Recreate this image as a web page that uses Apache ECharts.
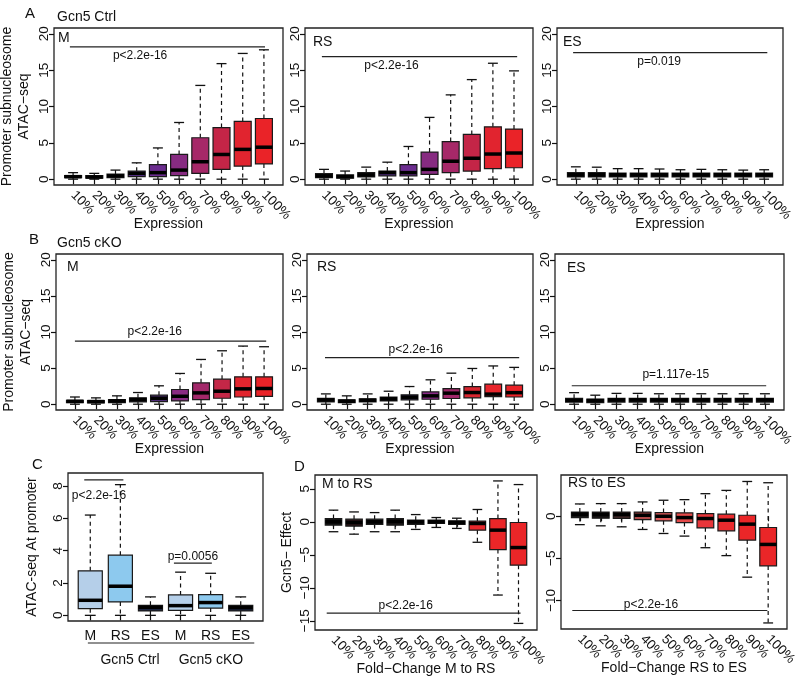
<!DOCTYPE html>
<html><head><meta charset="utf-8">
<script src="https://cdn.jsdelivr.net/npm/echarts@6/dist/echarts.min.js"></script>
<style>html,body{margin:0;padding:0;background:#fff}#c{width:800px;height:683px}</style>
</head><body><div id="c"></div>
<script>
// ---------- tick / category labels ----------
const pctLabels = ['10%','20%','30%','40%','50%','60%','70%','80%','90%','100%'];
const stageLabels = ['M','RS','ES','M','RS','ES'];
const yTicksAB = [0,5,10,15,20];
const yTicksC = [0,2,4,6,8];
const yTicksD1 = [-15,-10,-5,0,5];
const yTicksD2 = [-10,-5,0];

// ---------- box statistics: [min, Q1, median, Q3, max] ----------
const ctrlM = [[0,0.2,0.35,0.5,0.9],[0,0.15,0.3,0.5,0.8],[0,0.2,0.45,0.7,1.25],[0,0.35,0.8,1.1,2.25],[0,0.35,0.9,2.0,4.3],
  [0,0.5,1.25,3.4,7.8],[0,0.8,2.4,5.7,12.9],[0,1.35,3.4,7.1,15.9],[0,1.8,4.1,7.95,17.3],[0,2.1,4.4,8.35,17.8]];
const ctrlRS = [[0,0.22,0.45,0.76,1.35],[0,0.13,0.36,0.58,1.12],[0,0.31,0.58,0.9,1.66],[0,0.45,0.9,1.12,2.34],[0,0.45,0.9,2.0,4.5],
  [0,0.67,1.35,3.73,8.5],[0,0.9,2.47,5.17,11.6],[0,1.12,2.88,6.16,13.7],[0,1.44,3.46,7.2,15.95],[0,1.57,3.6,6.9,14.9]];
const ctrlES = [[0,0.3,0.6,0.9,1.7],[0,0.3,0.6,0.9,1.65],[0,0.3,0.6,0.85,1.45],[0,0.3,0.6,0.85,1.45],[0,0.3,0.6,0.85,1.4],
  [0,0.3,0.6,0.85,1.3],[0,0.3,0.6,0.85,1.35],[0,0.3,0.6,0.85,1.3],[0,0.3,0.6,0.85,1.25],[0,0.3,0.6,0.85,1.3]];
const koM = [[0,0.23,0.4,0.55,1.0],[0,0.2,0.37,0.5,0.88],[0,0.23,0.46,0.65,1.16],[0,0.32,0.65,0.88,1.62],[0,0.37,0.83,1.25,2.55],
  [0,0.46,1.1,2.04,4.26],[0,0.65,1.57,2.96,6.2],[0,0.83,1.8,3.47,7.4],[0,1.0,2.13,3.8,8.05],[0,1.1,2.18,3.8,7.96]];
const koRS = [[0,0.32,0.6,0.8,1.43],[0,0.23,0.42,0.6,1.16],[0,0.32,0.55,0.74,1.43],[0,0.46,0.74,1.0,1.8],[0,0.6,0.97,1.3,2.45],
  [0,0.69,1.16,1.7,3.38],[0,0.79,1.53,2.17,4.3],[0,0.88,1.62,2.45,4.95],[0,1.06,1.4,2.78,5.3],[0,1.0,1.6,2.64,5.1]];
const koES = [[0,0.28,0.56,0.83,1.6],[0,0.23,0.5,0.7,1.25],[0,0.3,0.6,0.8,1.5],[0,0.3,0.6,0.8,1.5],[0,0.3,0.6,0.8,1.45],
  [0,0.3,0.6,0.8,1.45],[0,0.3,0.6,0.8,1.45],[0,0.3,0.6,0.8,1.45],[0,0.3,0.6,0.8,1.45],[0,0.3,0.6,0.8,1.45]];
const promoterAll = [[0,0.41,0.93,2.75,6.2],[0,0.83,1.8,3.72,8.08],[0,0.27,0.5,0.62,1.14],
  [0,0.31,0.6,1.26,2.67],[0,0.45,0.79,1.28,2.6],[0,0.27,0.48,0.62,1.14]];
const effectMtoRS = [[-1.5,-0.5,0,0.5,1.77],[-1.87,-0.65,-0.1,0.4,1.5],[-1.5,-0.4,0,0.4,1.4],[-1.5,-0.5,0.05,0.5,1.77],[-1.15,-0.4,0,0.25,1.1],
  [-0.85,-0.25,0,0.25,0.65],[-1.0,-0.4,-0.1,0.15,0.55],[-3.1,-1.26,-0.25,0.1,1.87],[-11.1,-4.2,-1.26,0.5,6.2],[-15.4,-6.57,-3.9,-0.1,5.65]];
const effectRStoES = [[-1.0,-0.16,0.24,0.5,1.46],[-1.14,-0.24,0.2,0.5,1.5],[-1.26,-0.27,0.2,0.5,1.5],[-1.57,-0.4,0.12,0.5,1.7],[-2.05,-0.55,0,0.43,1.9],
  [-2.36,-0.75,-0.16,0.4,1.97],[-3.74,-1.38,-0.27,0.3,2.68],[-4.68,-1.73,-0.47,0.24,3.07],[-7.24,-2.83,-0.94,0.12,4.13],[-12.68,-5.9,-3.35,-1.34,3.98]];

// ---------- styles ----------
const FONT = '"Liberation Sans", Arial, sans-serif';
const palA = ['#141414','#161416','#1c1820','#5c3391','#6b2c8f','#872b81','#a62868','#c42547','#e1242f','#ea2328'];
const palB1 = ['#141414','#141414','#171518','#1f1a28','#4e2c78','#8a2b83','#a3286a','#c42747','#e2252e','#ea2328'];
const palB2 = ['#141414','#141414','#151416','#1a1820','#3a2a5a','#8a2a88','#a0286a','#d8262f','#e8252c','#ea2328'];
const palES = Array(10).fill('#141414');
const palC = ['#b5cfe9','#8dc9ee','#1b2440','#b5cfe9','#8dc9ee','#1b2440'];
const palD1 = ['#141414','#2b1417','#141414','#1a1616','#141414','#141414','#141414','#e8282c','#ea2628','#ea2628'];
const palD2 = ['#141414','#181515','#3c2626','#b24a4a','#e45a5a','#e34a4a','#e8363a','#ea2b2e','#ea2628','#ea2628'];

const minus = v => (v < 0 ? '\u2212' + Math.abs(v) : String(v));

const panels = [
  {grid:{left:54,top:28,width:229,height:157}, data:ctrlM, pal:palA, xr:[0.1,10.9], yr:[-0.8,20.8], yt:yTicksAB, xl:pctLabels, xname:'Expression', yname:'Promoter subnucleosome\nATAC\u2212seq',
   anns:[{l:[0.85,10.05,18.2], t:[4.16,16.95,'p<2.2e-16']}]},
  {grid:{left:305,top:28,width:228,height:157}, data:ctrlRS, pal:palA, xr:[0.1,10.9], yr:[-0.8,20.8], yt:yTicksAB, xl:pctLabels, xname:'Expression',
   anns:[{l:[0.9,10.15,16.85], t:[4.2,15.6,'p<2.2e-16']}]},
  {grid:{left:557,top:28,width:226,height:157}, data:ctrlES, pal:palES, xr:[0.1,10.9], yr:[-0.8,20.8], yt:yTicksAB, xl:pctLabels, xname:'Expression',
   anns:[{l:[0.87,10.15,17.4], t:[4.98,16.2,'p=0.019']}]},
  {grid:{left:56,top:254,width:227,height:156}, data:koM, pal:palB1, xr:[0.1,10.9], yr:[-0.8,20.8], yt:yTicksAB, xl:pctLabels, xname:'Expression', yname:'Promoter subnucleosome\nATAC\u2212seq',
   anns:[{l:[1.0,10.1,8.75], t:[4.8,10.0,'p<2.2e-16']}]},
  {grid:{left:307,top:254,width:226,height:156}, data:koRS, pal:palB2, xr:[0.1,10.9], yr:[-0.8,20.8], yt:yTicksAB, xl:pctLabels, xname:'Expression',
   anns:[{l:[0.96,10.24,6.44], t:[5.3,7.5,'p<2.2e-16']}]},
  {grid:{left:555,top:254,width:229,height:156}, data:koES, pal:palES, xr:[0.1,10.9], yr:[-0.8,20.8], yt:yTicksAB, xl:pctLabels, xname:'Expression',
   anns:[{l:[0.89,10.06,2.56], t:[5.8,4.04,'p=1.117e-15']}]},
  {grid:{left:68,top:473,width:195,height:148}, data:promoterAll, pal:palC, xr:[0.26,6.74], yr:[-0.35,8.8], yt:yTicksC, xl:stageLabels, flat:true, bw:0.8, cw:0.36,
   yname:'ATAC-seq At promoter', ynameGap:27,
   anns:[{l:[0.8,2.1,8.37], t:[1.29,7.38,'p<2.2e-16']},{l:[3.78,5.04,3.23], t:[4.41,3.6,'p=0.0056']},
         {l:[0.92,6.45,-1.71]},{t:[2.32,-2.76,'Gcn5 Ctrl'],fs:14},{t:[5.01,-2.76,'Gcn5 cKO'],fs:14}]},
  {grid:{left:315,top:475,width:222,height:155}, data:effectMtoRS, pal:palD1, xr:[0.1,10.9], yr:[-16.4,7.1], yt:yTicksD1, xl:pctLabels, xname:'Fold\u2212Change M to RS', yname:'Gcn5\u2212 Effect', ynameGap:19,
   anns:[{l:[0.67,10.1,-13.85], t:[4.51,-12.7,'p<2.2e-16']}]},
  {grid:{left:561,top:475,width:226,height:154}, data:effectRStoES, pal:palD2, xr:[0.1,10.9], yr:[-13.4,4.9], yt:yTicksD2, xl:pctLabels, xname:'Fold\u2212Change RS to ES',
   anns:[{l:[0.64,9.96,-11.2], t:[4.4,-10.46,'p<2.2e-16']}]}
];

function boxRender(p) {
  const bw = p.bw || 0.8, cw = p.cw || 0.47;
  return function (params, api) {
    const x = api.value(0);
    const pt = [1,2,3,4,5].map(i => api.coord([x, api.value(i)]));
    const w = api.size([bw, 0])[0];
    const c = api.size([cw, 0])[0];
    const cx = pt[0][0];
    const wh = {stroke:'#111', lineWidth:1.2, lineDash:[4,3.5]};
    const cap = {stroke:'#111', lineWidth:1.3};
    return {type:'group', children:[
      {type:'line', shape:{x1:cx,y1:pt[3][1],x2:cx,y2:pt[4][1]}, style:wh},
      {type:'line', shape:{x1:cx,y1:pt[1][1],x2:cx,y2:pt[0][1]}, style:wh},
      {type:'line', shape:{x1:cx-c/2,y1:pt[4][1],x2:cx+c/2,y2:pt[4][1]}, style:cap},
      {type:'line', shape:{x1:cx-c/2,y1:pt[0][1],x2:cx+c/2,y2:pt[0][1]}, style:cap},
      {type:'rect', shape:{x:cx-w/2,y:pt[3][1],width:w,height:pt[1][1]-pt[3][1]}, style:{fill:p.pal[params.dataIndex], stroke:'#1a1a1a', lineWidth:1.2}},
      {type:'line', shape:{x1:cx-w/2,y1:pt[2][1],x2:cx+w/2,y2:pt[2][1]}, style:{stroke:'#000', lineWidth:3.5}}
    ]};
  };
}

function annRender(p) {
  return function (params, api) {
    const a = p.anns[params.dataIndex];
    const ch = [];
    if (a.l) {
      const s = api.coord([a.l[0], a.l[2]]), e = api.coord([a.l[1], a.l[2]]);
      ch.push({type:'line', shape:{x1:s[0],y1:s[1],x2:e[0],y2:e[1]}, style:{stroke:'#222', lineWidth:1.2}});
    }
    if (a.t) {
      const q = api.coord([a.t[0], a.t[1]]);
      ch.push({type:'text', style:{text:a.t[2], x:q[0], y:q[1], fill:'#111', font:(a.fs||12)+'px '+FONT,
        align:'center', verticalAlign:'middle', textAlign:'center', textVerticalAlign:'middle'}});
    }
    return {type:'group', children:ch};
  };
}

const grids = [], xAxes = [], yAxes = [], series = [];
panels.forEach((p, i) => {
  grids.push(Object.assign({show:true, borderColor:'#222', borderWidth:1.3, backgroundColor:'transparent', containLabel:false, outerBoundsMode:'none'}, p.grid));
  const xVals = p.xl.map((_, k) => k + 1);
  xAxes.push({gridIndex:i, type:'value', min:p.xr[0], max:p.xr[1], nameMoveOverlap:false,
    axisLine:{show:false}, splitLine:{show:false},
    axisTick:{show:true, customValues:xVals, length:5, lineStyle:{color:'#111', width:1.2}},
    axisLabel:{show:true, customValues:xVals, rotate:p.flat?0:-45, margin:8, color:'#111', fontSize:p.flat?14:13.5, fontFamily:FONT,
      formatter:v => p.xl[Math.round(v) - 1] || ''},
    name:p.xname || '', nameLocation:'middle', nameGap:32, nameTextStyle:{color:'#111', fontSize:14, fontFamily:FONT}});
  yAxes.push({gridIndex:i, type:'value', min:p.yr[0], max:p.yr[1], nameMoveOverlap:false,
    axisLine:{show:false}, splitLine:{show:false},
    axisTick:{show:true, customValues:p.yt, length:5, lineStyle:{color:'#111', width:1.2}},
    axisLabel:{show:true, customValues:p.yt, rotate:90, margin:3, color:'#111', fontSize:13.5, fontFamily:FONT, formatter:minus},
    name:p.yname || '', nameLocation:'middle', nameRotate:90, nameGap:p.ynameGap || 21,
    nameTextStyle:{color:'#111', fontSize:14, lineHeight:17, fontFamily:FONT}});
  series.push({type:'custom', xAxisIndex:i, yAxisIndex:i, clip:false, silent:true,
    data:p.data.map((d, k) => [k + 1].concat(d)), encode:{x:0, y:[1,2,3,4,5]}, renderItem:boxRender(p)});
  series.push({type:'custom', xAxisIndex:i, yAxisIndex:i, clip:false, silent:true,
    data:p.anns.map((a, k) => [k]), renderItem:annRender(p)});
});

const txt = (x, y, s, size) => ({type:'text', left:x, top:y, style:{text:s, fill:'#111', font:size + 'px ' + FONT}});
const graphic = [
  txt(25, 6, 'A', 15), txt(57, 10, 'Gcn5 Ctrl', 14),
  txt(29, 232, 'B', 15), txt(57, 236, 'Gcn5 cKO', 14),
  txt(32, 457, 'C', 15), txt(294, 459, 'D', 15),
  txt(58, 31, 'M', 14), txt(313, 35, 'RS', 14), txt(563, 35, 'ES', 14),
  txt(67, 260, 'M', 14), txt(317, 260, 'RS', 14), txt(567, 261, 'ES', 14),
  txt(322, 477, 'M to RS', 14), txt(568, 476, 'RS to ES', 14)
];

const chart = echarts.init(document.getElementById('c'), null, {renderer:'canvas'});
chart.setOption({
  animation:false, backgroundColor:'#fff', textStyle:{fontFamily:FONT},
  grid:grids, xAxis:xAxes, yAxis:yAxes, series:series, graphic:graphic
});
</script></body></html>
